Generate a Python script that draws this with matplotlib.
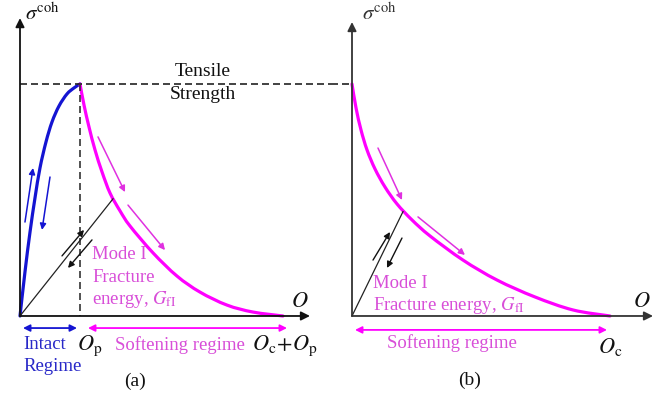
import matplotlib
matplotlib.use("Agg")
import matplotlib.pyplot as plt
from matplotlib.path import Path
from matplotlib.patches import PathPatch

plt.rcParams['font.family'] = ['Liberation Serif', 'DejaVu Serif']
plt.rcParams['mathtext.fontset'] = 'stix'

# ---------------- data (schematic units: stress / tensile strength, displacement) -------------
# Panel (a)
intact_x = [0, 0.083, 0.167, 0.25, 0.333, 0.433, 0.533, 0.65, 0.783, 0.9, 1.0]
intact_y = [0, 0.190, 0.362, 0.509, 0.638, 0.750, 0.836, 0.905, 0.957, 0.983, 1.0]
soft_a_x = [1.0, 1.067, 1.15, 1.25, 1.367, 1.5, 1.667, 1.833, 2.217, 2.617, 3.0, 3.45, 3.883, 4.383]
soft_a_y = [1.0, 0.909, 0.815, 0.716, 0.621, 0.530, 0.453, 0.388, 0.272, 0.172, 0.103, 0.047, 0.017, 0.0]
unload_a = [(0, 0), (1.55, 0.505)]
# Panel (b)
soft_b_x = [0, 0.067, 0.15, 0.25, 0.383, 0.55, 0.75, 1.0, 1.3, 1.85, 2.417, 3.05, 3.683, 4.3]
soft_b_y = [1.0, 0.897, 0.802, 0.716, 0.634, 0.556, 0.483, 0.414, 0.345, 0.241, 0.155, 0.082, 0.026, 0.0]
unload_b = [(0, 0), (0.85, 0.45)]

tensile_strength = 1.0
delta_p_a = 1.0

BLUE = '#1414d2'
BLUET = '#2828c8'
MAG = '#ff00ff'
MAGT = '#d84ed8'
MAGA = '#e030e0'
AX = '#111111'
FS = 13.5

fig = plt.figure(figsize=(6.62, 3.99), dpi=100)
axa = fig.add_axes([0, 0, 0.5, 1])
axb = fig.add_axes([0.5, 0, 0.5, 1])
axa.set_xlim(-0.3333, 5.1833)
axb.set_xlim(-0.35, 5.1667)
for ax in (axa, axb):
    ax.set_ylim(-0.3578, 1.362)
    ax.axis('off')


def smooth_curve(ax, xs, ys, color, lw):
    """Draw a smooth Catmull-Rom curve through the read points using Bezier path segments."""
    pts = list(zip(xs, ys))
    n = len(pts)
    verts = [pts[0]]
    codes = [Path.MOVETO]
    for i in range(n - 1):
        p0 = pts[i - 1] if i > 0 else pts[i]
        p1 = pts[i]
        p2 = pts[i + 1]
        p3 = pts[i + 2] if i + 2 < n else pts[i + 1]
        c1 = (p1[0] + (p2[0] - p0[0]) / 6, p1[1] + (p2[1] - p0[1]) / 6)
        c2 = (p2[0] - (p3[0] - p1[0]) / 6, p2[1] - (p3[1] - p1[1]) / 6)
        verts += [c1, c2, p2]
        codes += [Path.CURVE4] * 3
    ax.add_patch(PathPatch(Path(verts, codes), facecolor='none', edgecolor=color,
                           lw=lw, capstyle='round', joinstyle='round'))


def arrow(ax, p0, p1, color, lw=1.0, style='-|>', ms=9):
    ax.annotate('', xy=p1, xytext=p0,
                arrowprops=dict(arrowstyle=style, color=color, lw=lw,
                                mutation_scale=ms, shrinkA=0, shrinkB=0),
                annotation_clip=False)

dash = (0, (4.2, 2.4))

# ---------------- panel (a) ----------------
arrow(axa, (0, 0), (0, 1.284), AX, lw=1.3, ms=13)
arrow(axa, (0, 0), (4.833, 0), AX, lw=1.3, ms=13)
axa.plot([0, 5.1833], [tensile_strength, tensile_strength], color='#222222', lw=1.2, ls=dash, clip_on=False)
axa.plot([delta_p_a, delta_p_a], [tensile_strength, 0], color='#333333', lw=1.2, ls=dash)
smooth_curve(axa, intact_x, intact_y, BLUE, 2.3)
smooth_curve(axa, soft_a_x, soft_a_y, MAG, 2.3)
axa.plot([p[0] for p in unload_a], [p[1] for p in unload_a], color='#222222', lw=0.9)

arrow(axa, (0.083, 0.405), (0.217, 0.638), BLUE, lw=1.1)
arrow(axa, (0.5, 0.599), (0.367, 0.371), BLUE, lw=1.1)
arrow(axa, (1.3, 0.772), (1.75, 0.534), MAGA, lw=1.1)
arrow(axa, (1.8, 0.478), (2.417, 0.284), MAGA, lw=1.1)
arrow(axa, (0.7, 0.259), (1.067, 0.371), AX, lw=1.0)
arrow(axa, (1.2, 0.328), (0.8, 0.207), AX, lw=1.0)

arrow(axa, (0.05, -0.052), (0.95, -0.052), BLUE, lw=1.3, style='<|-|>', ms=10)
arrow(axa, (1.133, -0.052), (4.45, -0.052), MAG, lw=1.3, style='<|-|>', ms=10)

axa.text(0.083, 1.302, r'$\sigma^{\mathrm{coh}}$', fontsize=15, ha='left', va='center', color=AX)
axa.text(3.05, 1.052, 'Tensile', fontsize=14, ha='center', va='center', color=AX)
axa.text(3.05, 0.953, 'Strength', fontsize=14, ha='center', va='center', color=AX)
axa.text(1.2, 0.263, 'Mode I', fontsize=FS, ha='left', va='center', color=MAGT)
axa.text(1.2, 0.168, 'Fracture', fontsize=FS, ha='left', va='center', color=MAGT)
axa.text(1.2, 0.073, r'energy, $G_{\mathrm{fI}}$', fontsize=FS, ha='left', va='center', color=MAGT)
axa.text(4.667, 0.056, r'$O$', fontsize=16, ha='center', va='center', color=AX)
axa.text(0.05, -0.125, 'Intact', fontsize=FS, ha='left', va='center', color=BLUET)
axa.text(0.05, -0.216, 'Regime', fontsize=FS, ha='left', va='center', color=BLUET)
axa.text(0.95, -0.13, r'$O_{\mathrm{p}}$', fontsize=16, ha='left', va='center', color=AX)
axa.text(2.667, -0.125, 'Softening regime', fontsize=FS, ha='center', va='center', color=MAGT)
axa.text(4.417, -0.13, r'$O_{\mathrm{c}}\!+\!O_{\mathrm{p}}$', fontsize=16, ha='center', va='center', color=AX)
axa.text(1.917, -0.28, '(a)', fontsize=14, ha='center', va='center', color=AX)

# ---------------- panel (b) ----------------
arrow(axb, (0, 0), (0, 1.267), '#333333', lw=1.3, ms=13)
arrow(axb, (0, 0), (5.017, 0), '#333333', lw=1.3, ms=13)
axb.plot([-0.35, 0], [tensile_strength, tensile_strength], color='#222222', lw=1.2, ls=dash, clip_on=False)
smooth_curve(axb, soft_b_x, soft_b_y, MAG, 2.3)
axb.plot([p[0] for p in unload_b], [p[1] for p in unload_b], color='#222222', lw=0.9)

arrow(axb, (0.433, 0.724), (0.833, 0.5), MAGA, lw=1.1)
arrow(axb, (1.1, 0.427), (1.883, 0.263), MAGA, lw=1.1)
arrow(axb, (0.35, 0.241), (0.633, 0.362), AX, lw=1.0)
arrow(axb, (0.833, 0.336), (0.583, 0.207), AX, lw=1.0)

arrow(axb, (0.05, -0.06), (4.25, -0.06), MAG, lw=1.3, style='<|-|>', ms=10)

axb.text(0.167, 1.302, r'$\sigma^{\mathrm{coh}}$', fontsize=15, ha='left', va='center', color='#333333')
axb.text(0.35, 0.142, 'Mode I', fontsize=FS, ha='left', va='center', color=MAGT)
axb.text(0.35, 0.047, r'Fracture energy, $G_{\mathrm{fI}}$', fontsize=FS, ha='left', va='center', color=MAGT)
axb.text(4.83, 0.056, r'$O$', fontsize=16, ha='center', va='center', color=AX)
axb.text(1.667, -0.116, 'Softening regime', fontsize=FS, ha='center', va='center', color=MAGT)
axb.text(4.3, -0.134, r'$O_{\mathrm{c}}$', fontsize=16, ha='center', va='center', color=AX)
axb.text(1.967, -0.276, '(b)', fontsize=14, ha='center', va='center', color=AX)

fig.savefig('out.png', dpi=100)
